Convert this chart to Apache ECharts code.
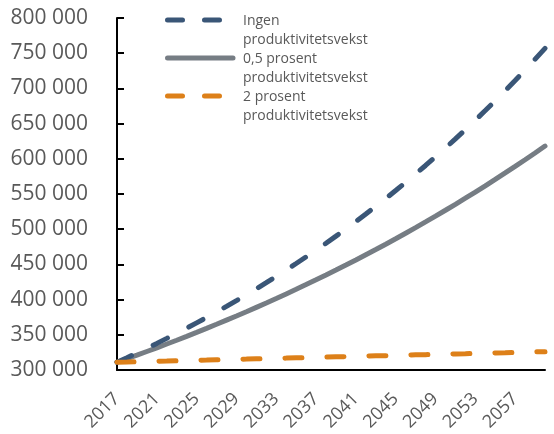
<!DOCTYPE html>
<html>
<head>
<meta charset="utf-8">
<script src="https://cdn.jsdelivr.net/npm/echarts@6/dist/echarts.min.js"></script>
<style>
html, body { margin: 0; padding: 0; background: #fff; }
#main { width: 554px; height: 434px; }
</style>
</head>
<body>
<div id="main"></div>
<script>
// 年份
var years = ['2017', '2018', '2019', '2020', '2021', '2022', '2023', '2024', '2025', '2026',
    '2027', '2028', '2029', '2030', '2031', '2032', '2033', '2034', '2035', '2036',
    '2037', '2038', '2039', '2040', '2041', '2042', '2043', '2044', '2045', '2046',
    '2047', '2048', '2049', '2050', '2051', '2052', '2053', '2054', '2055', '2056',
    '2057', '2058', '2059', '2060'];

var seriesNames = ['Ingen produktivitetsvekst', '0,5 prosent produktivitetsvekst', '2 prosent produktivitetsvekst'];

// Ingen produktivitetsvekst
var ingen = [311000, 317500, 324100, 330900, 337800, 344900, 352100, 359400, 367000, 374600,
    382500, 390400, 398600, 406900, 415400, 424100, 433000, 442000, 451300, 460700,
    470300, 480100, 490200, 500400, 510900, 521600, 532500, 543600, 555000, 566600,
    578400, 590500, 602800, 615400, 628300, 641400, 654800, 668500, 682500, 696700,
    711300, 726100, 741300, 756800];

// 0,5 prosent
var halv = [311000, 316000, 321100, 326300, 331500, 336900, 342300, 347800, 353400, 359100,
    364900, 370800, 376700, 382800, 389000, 395200, 401600, 408100, 414600, 421300,
    428100, 435000, 442000, 449100, 456300, 463700, 471100, 478700, 486400, 494300,
    502200, 510300, 518500, 526900, 535400, 544000, 552700, 561600, 570700, 579900,
    589200, 598700, 608300, 618100];

// 2 prosent
var to = [311000, 311300, 311700, 312000, 312400, 312700, 313100, 313400, 313800, 314100,
    314500, 314800, 315200, 315500, 315900, 316200, 316600, 316900, 317300, 317600,
    318000, 318300, 318700, 319000, 319400, 319700, 320100, 320400, 320800, 321100,
    321500, 321800, 322200, 322500, 322900, 323200, 323600, 323900, 324300, 324600,
    325000, 325300, 325700, 326000];

var colors = ['#3a5677', '#767d84', '#dd8019'];
var dashes = [[16, 24], null, [17, 25]];
var font = 'Open Sans';

var chart = echarts.init(document.getElementById('main'));

// 图例（手工绘制，文字两行）
var legendItems = [];
seriesNames.forEach(function (name, i) {
    var y = 20 + i * 38;
    var words = name.split(' ');
    var label = words.slice(0, words.length - 1).join(' ') + '\n' + words[words.length - 1];
    legendItems.push({
        type: 'line',
        shape: {x1: 167.5, y1: y, x2: dashes[i] ? 219.5 : 233, y2: y},
        style: {stroke: colors[i], lineWidth: 5, lineCap: 'round', lineDash: dashes[i] ? [15, 22] : null}
    });
    legendItems.push({
        type: 'text',
        left: 243,
        top: y - 8,
        style: {text: label, font: '14px "' + font + '"', fill: '#595959', lineHeight: 19}
    });
});

chart.setOption({
    animation: false,
    grid: {
        left: 117,
        right: 9,
        top: 18,
        bottom: 64
    },
    xAxis: {
        type: 'category',
        boundaryGap: false,
        data: years,
        axisLine: {lineStyle: {color: '#000', width: 2}},
        axisTick: {show: false},
        axisLabel: {
            interval: 3,
            rotate: 45,
            margin: 26,
            padding: [14, 0, 0, 0],
            color: '#595959',
            fontFamily: font,
            fontSize: 18
        }
    },
    yAxis: {
        type: 'value',
        min: 300000,
        max: 800000,
        interval: 50000,
        axisLine: {show: true, lineStyle: {color: '#000', width: 2}},
        axisTick: {show: true, inside: true, length: 7, lineStyle: {color: '#000', width: 2}},
        splitLine: {show: false},
        axisLabel: {
            margin: 29,
            color: '#595959',
            fontFamily: font,
            fontSize: 21,
            formatter: function (v) {
                return String(v).replace(/\B(?=(\d{3})+(?!\d))/g, ' ');
            }
        }
    },
    graphic: legendItems,
    series: [
        {
            name: seriesNames[0],
            type: 'line',
            data: ingen,
            showSymbol: false,
            lineStyle: {color: colors[0], width: 5, type: dashes[0], cap: 'round'},
            z: 3
        },
        {
            name: seriesNames[1],
            type: 'line',
            data: halv,
            showSymbol: false,
            lineStyle: {color: colors[1], width: 5, cap: 'round'},
            z: 2
        },
        {
            name: seriesNames[2],
            type: 'line',
            data: to,
            showSymbol: false,
            lineStyle: {color: colors[2], width: 5, type: dashes[2], cap: 'round'},
            z: 4
        }
    ]
});
</script>
</body>
</html>
